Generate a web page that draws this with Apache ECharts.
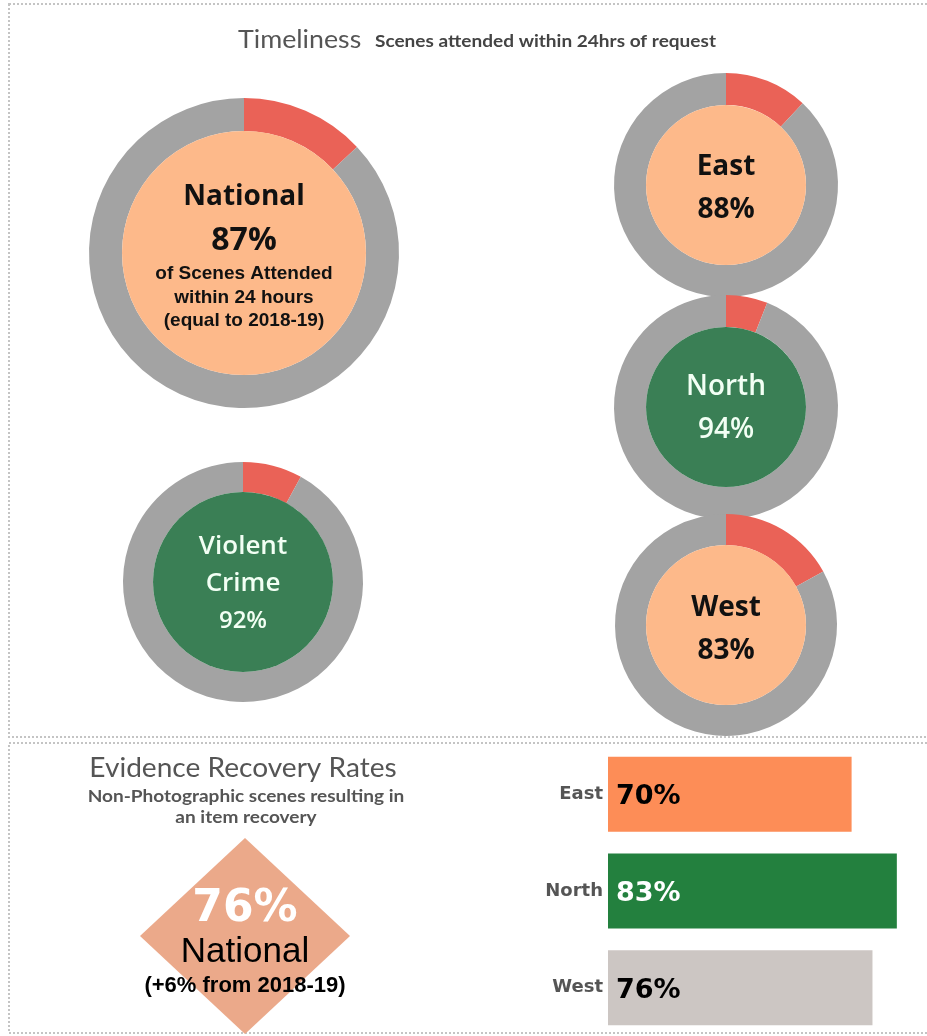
<!DOCTYPE html>
<html>
<head>
<meta charset="utf-8">
<script src="https://cdn.jsdelivr.net/npm/echarts@6/dist/echarts.min.js"></script>
<style>
  html, body { margin: 0; padding: 0; background: #fff; }
  #chart { width: 927px; height: 1036px; }
</style>
</head>
<body>
<div id="chart"></div>
<script>
// timeliness: scenes attended within 24hrs (%)
const donutNames = ['National', 'East', 'North', 'Violent Crime', 'West'];
const donutValues = [87, 88, 94, 92, 83];
// evidence recovery rates (%)
const recoveryRegions = ['East', 'North', 'West'];
const recoveryValues = [70, 83, 76];
const nationalRecovery = 76;
const nationalChange = 6;

const GREY = '#a3a3a3';
const RED = '#ea6257';
const PEACH = '#fdb98a';
const GREEN = '#3a7f55';

// layout of each donut: center, ring radii, fill, text
const donutLayout = {
  'National': { center: [244, 253], inner: 122, outer: 155, fill: PEACH, pad: 0 },
  'East': { center: [726, 185], inner: 80, outer: 112, fill: PEACH, pad: 7 },
  'North': { center: [726, 407], inner: 80, outer: 112, fill: GREEN, pad: 4 },
  'Violent Crime': { center: [243, 582], inner: 90, outer: 120, fill: GREEN, pad: 5 },
  'West': { center: [726, 625], inner: 80, outer: 111, fill: PEACH, pad: 10 }
};

function donutLabel(name, v) {
  if (name === 'National') {
    return '{a|National}\n{b|' + v + '%}\n{c|of Scenes Attended}\n{c|within 24 hours}\n{c|(equal to 2018-19)}';
  }
  if (name === 'Violent Crime') {
    return '{v|Violent}\n{v|Crime}\n{w|' + v + '%}';
  }
  return '{r|' + name + '}\n{r|' + v + '%}';
}

const darkText = { fontFamily: 'Open Sans', fontWeight: 'bold', color: '#111' };
const lightText = { fontFamily: 'Open Sans', fontWeight: 600, color: '#f2fff4' };

const series = [];
donutNames.forEach(function (name, i) {
  const v = donutValues[i];
  const lay = donutLayout[name];
  const txt = lay.fill === GREEN ? lightText : darkText;
  series.push({
    type: 'pie',
    silent: true,
    center: lay.center,
    radius: [lay.inner, lay.outer],
    startAngle: 90,
    label: { show: false },
    labelLine: { show: false },
    data: [
      { name: 'Not within 24hrs', value: 100 - v, itemStyle: { color: RED } },
      { name: 'Within 24hrs', value: v, itemStyle: { color: GREY } }
    ]
  });
  series.push({
    type: 'pie',
    silent: true,
    center: lay.center,
    radius: [0, lay.inner],
    labelLine: { show: false },
    label: {
      show: true,
      position: 'center',
      padding: [lay.pad, 0, 0, 0],
      formatter: function () { return donutLabel(name, v); },
      rich: {
        a: Object.assign({}, txt, { fontSize: 28, lineHeight: 47 }),
        b: Object.assign({}, txt, { fontSize: 32, lineHeight: 42 }),
        c: { fontFamily: 'Liberation Sans', fontWeight: 'bold', color: '#111', fontSize: 19, lineHeight: 23.5 },
        r: Object.assign({}, txt, { fontSize: 28, lineHeight: 43 }),
        v: Object.assign({}, txt, { fontSize: 26, lineHeight: 37 }),
        w: Object.assign({}, txt, { fontSize: 24, lineHeight: 39 })
      }
    },
    data: [{ name: name, value: v, itemStyle: { color: lay.fill } }]
  });
});

// recovery bars
series.push({
  type: 'bar',
  xAxisIndex: 0,
  yAxisIndex: 0,
  silent: true,
  barWidth: 75,
  data: recoveryValues.map(function (v, i) {
    const colors = ['#fd8d57', '#23803e', '#ccc6c3'];
    return {
      value: v,
      itemStyle: { color: colors[i] },
      label: { color: i === 1 ? '#fff' : '#000' }
    };
  }),
  label: {
    show: true,
    position: 'insideLeft',
    distance: 8,
    offset: [0, 3],
    formatter: '{c}%',
    fontFamily: 'DejaVu Sans',
    fontWeight: 'bold',
    fontSize: 27
  }
});

// national recovery diamond
series.push({
  type: 'scatter',
  xAxisIndex: 1,
  yAxisIndex: 1,
  silent: true,
  symbol: 'diamond',
  symbolSize: [210, 196],
  itemStyle: { color: '#eba98a', opacity: 1 },
  data: [['National', nationalRecovery]],
  label: {
    show: true,
    position: 'inside',
    offset: [0, 8],
    formatter: function (p) {
      return '{p|' + p.value[1] + '%}\n{n|National}\n{s|(+' + nationalChange + '% from 2018-19)}';
    },
    rich: {
      p: { fontFamily: 'DejaVu Sans', fontWeight: 'bold', fontSize: 44, color: '#fff', lineHeight: 44 },
      n: { fontFamily: 'Liberation Sans', fontSize: 35, color: '#000', lineHeight: 40 },
      s: { fontFamily: 'Liberation Sans', fontWeight: 'bold', fontSize: 22, color: '#000', lineHeight: 28 }
    }
  }
});

const titleFont = 'Lato';

const option = {
  animation: false,
  backgroundColor: '#fff',
  grid: [
    { left: 608, top: 746, width: 313.2, height: 294 },
    { left: 140, top: 838, width: 210, height: 196 }
  ],
  xAxis: [
    { type: 'value', gridIndex: 0, min: 0, max: 90, show: false },
    { type: 'category', gridIndex: 1, data: ['National'], show: false }
  ],
  yAxis: [
    {
      type: 'category', gridIndex: 0, inverse: true, data: recoveryRegions,
      axisLine: { show: false }, axisTick: { show: false },
      axisLabel: { margin: 5, color: '#555', fontFamily: 'DejaVu Sans', fontWeight: 'bold', fontSize: 18 }
    },
    { type: 'value', gridIndex: 1, min: 0, max: nationalRecovery * 2, show: false }
  ],
  graphic: [
    {
      type: 'rect', z: -1, silent: true,
      shape: { x: 9, y: 4, width: 930, height: 733 },
      style: { fill: 'none', stroke: '#c4c4c4', lineWidth: 2, lineDash: [2, 2] }
    },
    {
      type: 'rect', z: -1, silent: true,
      shape: { x: 9, y: 743, width: 930, height: 290 },
      style: { fill: 'none', stroke: '#c4c4c4', lineWidth: 2, lineDash: [2, 2] }
    },
    {
      type: 'text', x: 238, y: 40, scaleX: 1.07,
      style: { text: 'Timeliness', fontFamily: titleFont, fontSize: 25, fill: '#555', verticalAlign: 'middle' }
    },
    {
      type: 'text', x: 375, y: 42, scaleX: 1.12,
      style: { text: 'Scenes attended within 24hrs of request', fontFamily: titleFont, fontWeight: 'bold', fontSize: 17, fill: '#444', verticalAlign: 'middle' }
    },
    {
      type: 'text', x: 243, y: 768, scaleX: 1.04,
      style: { text: 'Evidence Recovery Rates', fontFamily: titleFont, fontSize: 27, fill: '#555', align: 'center', verticalAlign: 'middle' }
    },
    {
      type: 'text', x: 246, y: 786, scaleX: 1.12,
      style: {
        text: 'Non-Photographic scenes resulting in\nan item recovery',
        fontFamily: titleFont, fontWeight: 'bold', fontSize: 17, lineHeight: 21, fill: '#555', align: 'center'
      }
    }
  ],
  series: series
};

const chart = echarts.init(document.getElementById('chart'));
chart.setOption(option);
</script>
</body>
</html>
